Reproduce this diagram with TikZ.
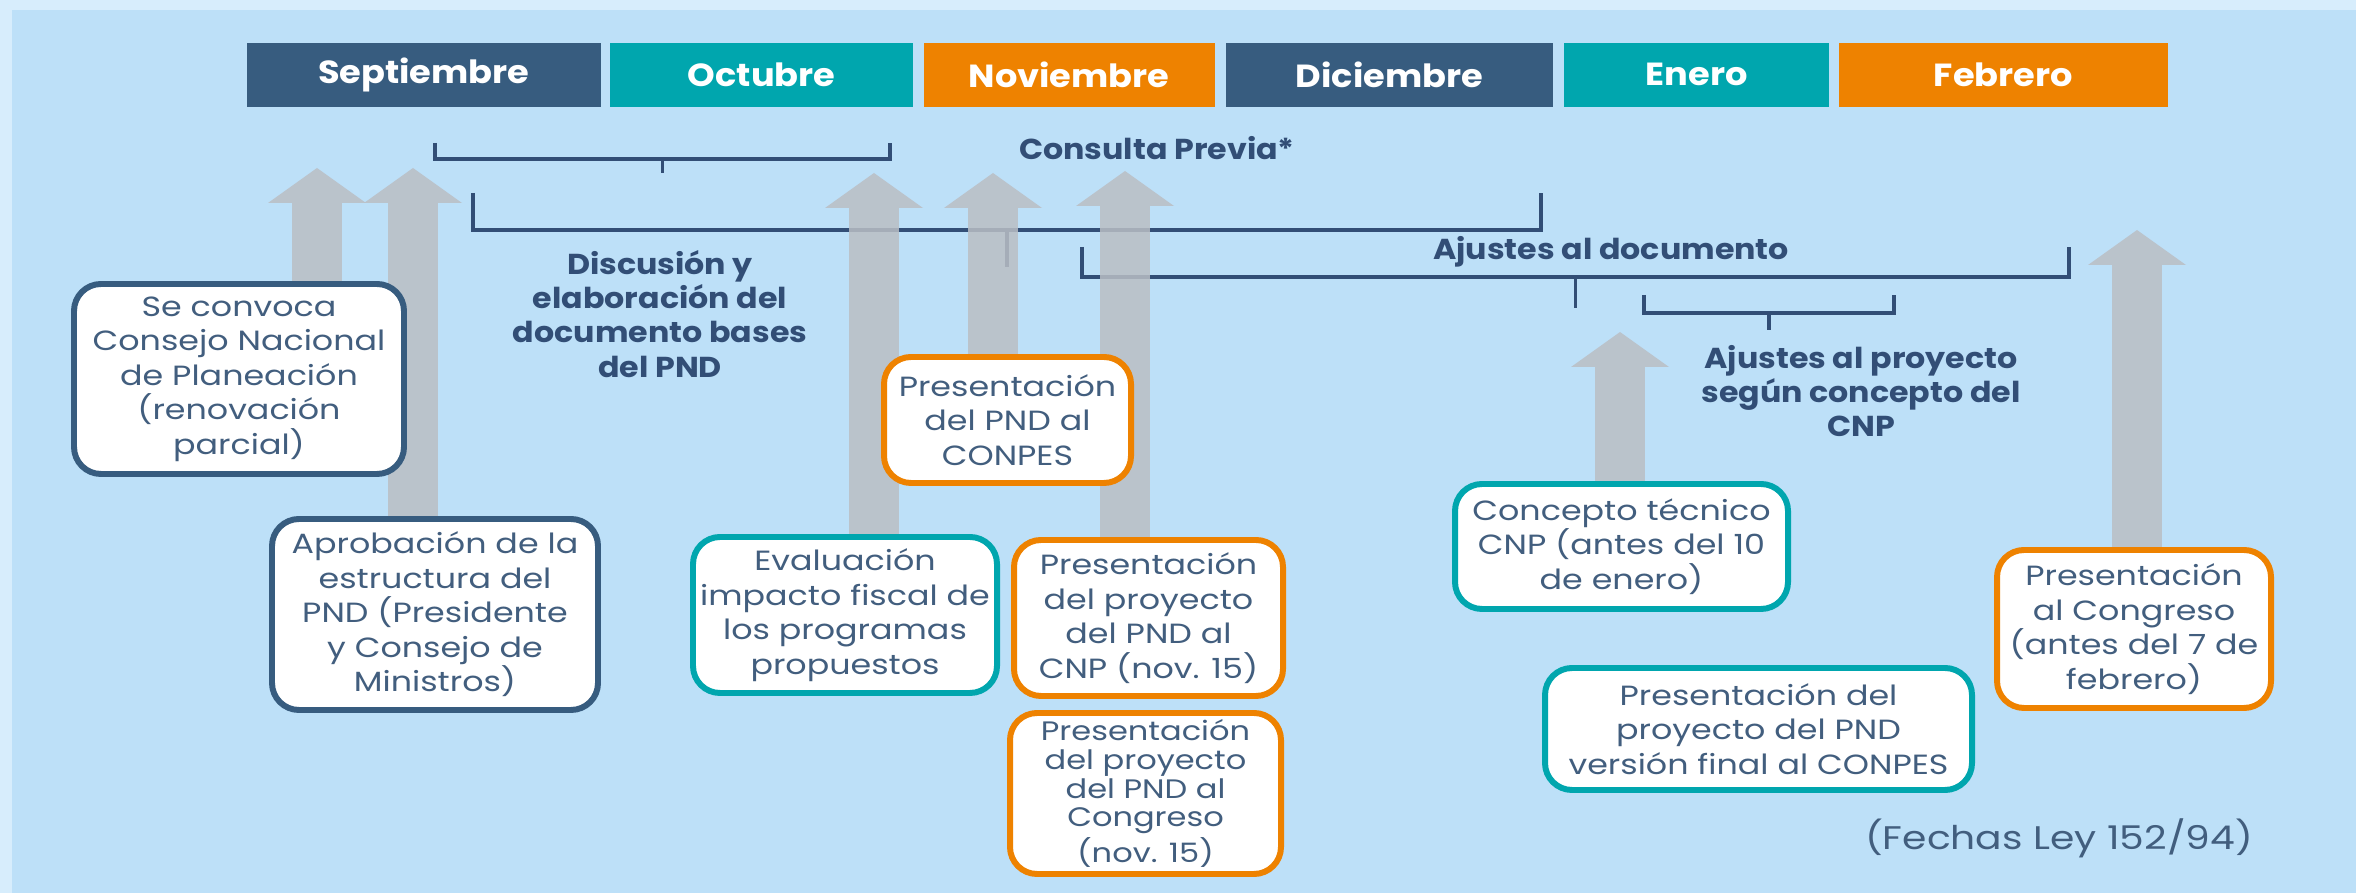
\documentclass[tikz,border=0pt]{standalone}
\usepackage{fontspec}
\setmainfont{Poppins}[UprightFeatures={FakeStretch=1.2}, BoldFeatures={FakeStretch=1.1}]
\usepackage{tikz}
\usetikzlibrary{positioning, arrows.meta}
\definecolor{azul}{RGB}{55, 92, 127}
\definecolor{turquesa}{RGB}{0, 166, 174}
\definecolor{naranja}{RGB}{238, 130, 0}
\definecolor{cielo}{RGB}{189, 224, 248}
\definecolor{margen}{RGB}{215, 237, 252}
\definecolor{gris}{RGB}{186, 190, 196}
\definecolor{tinta}{RGB}{50, 78, 118}
\definecolor{texto}{RGB}{66, 94, 126}
\pgfdeclarelayer{atras}
\pgfsetlayers{atras,main}
\tikzset{
    mes/.style={rectangle, fill=#1, text=white, minimum height=0.64cm, inner sep=0pt, font=\bfseries\fontsize{9.1}{11}\selectfont},
    caja/.style={draw=#1, fill=white, rounded corners=0.27cm, line width=1.7pt, align=center, text=texto, inner sep=0pt, font=\fontsize{7.9}{9.8}\selectfont},
    rotulo/.style={text=tinta, align=center, inner sep=0pt, font=\bfseries\fontsize{8.2}{9.7}\selectfont},
    llave/.style={-, tinta, line width=0.9pt},
    flecha/.style={draw=gris, line width=0.5cm, opacity=0.85, -{Triangle[width=0.98cm, length=0.35cm, line width=0pt]}},
}

\begin{document}
\begin{tikzpicture}
    \useasboundingbox (0,0) rectangle (23.56,-8.93);

    % meses
    \node [mes=azul, minimum width=3.54cm, anchor=north west] (sep) at (2.46,-0.42) {Septiembre};
    \node [mes=turquesa, minimum width=3.03cm, right=0.08cm of sep] (oct) {Octubre};
    \node [mes=naranja, minimum width=2.91cm, right=0.09cm of oct] (nov) {Noviembre};
    \node [mes=azul, minimum width=3.27cm, right=0.1cm of nov] (dic) {Diciembre};
    \node [mes=turquesa, minimum width=2.65cm, right=0.1cm of dic] (ene) {Enero};
    \node [mes=naranja, minimum width=3.29cm, right=0.08cm of ene] (feb) {Febrero};

    % cajas
    \node [caja=azul, minimum width=3.3cm, minimum height=1.9cm] (convoca) at (2.39,-3.79) {Se convoca\\Consejo Nacional\\de Planeación\\(renovación\\parcial)};
    \node [caja=azul, minimum width=3.26cm, minimum height=1.91cm] (aprob) at (4.35,-6.145) {Aprobación de la\\estructura del\\PND (Presidente\\y Consejo de\\Ministros)};
    \node [caja=turquesa, minimum width=3.04cm, minimum height=1.56cm] (evalua) at (8.45,-6.15) {Evaluación\\impacto fiscal de\\los programas\\propuestos};
    \node [caja=naranja, minimum width=2.47cm, minimum height=1.26cm] (conpes) at (10.075,-4.2) {Presentación\\del PND al\\CONPES};
    \node [caja=naranja, minimum width=2.69cm, minimum height=1.56cm] (cnp) at (11.485,-6.18) {Presentación\\del proyecto\\del PND al\\CNP (nov. 15)};
    \node [caja=naranja, minimum width=2.71cm, minimum height=1.61cm, font=\fontsize{7.6}{8.2}\selectfont] (congreso) at (11.455,-7.935) {Presentación\\del proyecto\\del PND al\\Congreso\\(nov. 15)};
    \node [caja=turquesa, minimum width=3.33cm, minimum height=1.25cm] (concepto) at (16.215,-5.465) {Concepto técnico\\CNP (antes del 10\\de enero)};
    \node [caja=turquesa, minimum width=4.27cm, minimum height=1.22cm] (final) at (17.585,-7.29) {Presentación del\\proyecto del PND\\versión final al CONPES};
    \node [caja=naranja, minimum width=2.74cm, minimum height=1.58cm] (febrero) at (21.34,-6.29) {Presentación\\al Congreso\\(antes del 7 de\\febrero)};

    % rotulos
    \node [rotulo, anchor=base] (consulta) at (11.57,-1.6) {Consulta Previa*};
    \node [rotulo] (discusion) at (6.6,-3.14) {Discusión y\\elaboración del\\documento bases\\del PND};
    \node [rotulo, anchor=base] (ajdoc) at (16.11,-2.6) {Ajustes al documento};
    \node [rotulo] (ajpro) at (18.61,-3.91) {Ajustes al proyecto\\según concepto del\\CNP};
    \node [text=texto, inner sep=0pt, font=\fontsize{9.3}{11}\selectfont] (ley) at (20.59,-8.38) {(Fechas Ley 152/94)};

    % puntas de flecha
    \coordinate (f1) at (3.17,-1.68);
    \coordinate (f2) at (4.13,-1.68);
    \coordinate (f3) at (8.74,-1.73);
    \coordinate (f4) at (9.93,-1.73);
    \coordinate (f5) at (11.25,-1.71);
    \coordinate (f6) at (16.2,-3.32);
    \coordinate (f7) at (21.37,-2.3);

    \begin{pgfonlayer}{atras}
        \fill [margen] (0,0) rectangle (23.56,-8.93);
        \fill [cielo] (0.12,-0.1) rectangle (23.56,-8.93);

        \draw [llave] (4.35,-1.43) |- (8.9,-1.59) -- (8.9,-1.43);
        \draw [llave] (6.625,-1.59) -- (6.625,-1.73);
        \draw [llave] (4.73,-1.93) |- (15.41,-2.3) -- (15.41,-1.93);
        \draw [llave] (10.07,-2.3) -- (10.07,-2.67);
        \draw [llave] (10.82,-2.47) |- (20.69,-2.77) -- (20.69,-2.47);
        \draw [llave] (15.755,-2.77) -- (15.755,-3.08);
        \draw [llave] (16.44,-2.95) |- (18.94,-3.13) -- (18.94,-2.95);
        \draw [llave] (17.69,-3.13) -- (17.69,-3.3);

        \draw [flecha] (f1 |- convoca.north) -- (f1);
        \draw [flecha] (f2 |- aprob.north) -- (f2);
        \draw [flecha] (f3 |- evalua.north) -- (f3);
        \draw [flecha] (f4 |- conpes.north) -- (f4);
        \draw [flecha] (f5 |- cnp.north) -- (f5);
        \draw [flecha] (f6 |- concepto.north) -- (f6);
        \draw [flecha] (f7 |- febrero.north) -- (f7);
    \end{pgfonlayer}
\end{tikzpicture}
\end{document}
